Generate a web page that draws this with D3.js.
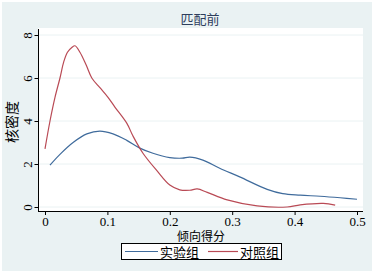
<!DOCTYPE html>
<html><head><meta charset="utf-8">
<script src="https://cdn.jsdelivr.net/npm/d3@7"></script>
<style>body{margin:0;background:#fff}</style>
</head><body>
<script>
const title = "匹配前";
const xLabel = "倾向得分";
const yLabel = "核密度";
const seriesNames = ["实验组", "对照组"];
const xTicks = [0, 0.1, 0.2, 0.3, 0.4, 0.5];
const yTicks = [0, 2, 4, 6, 8];
const treatX = [0.008,0.024,0.045,0.067,0.088,0.109,0.131,0.152,0.173,0.200,0.220,0.232,0.253,0.280,0.312,0.356,0.381,0.409,0.441,0.473,0.500];
const treatY = [1.95,2.45,3.0,3.4,3.53,3.4,3.1,2.74,2.5,2.3,2.27,2.32,2.18,1.8,1.4,0.82,0.62,0.55,0.5,0.43,0.36];
const ctrlX = [0.000,0.008,0.016,0.024,0.030,0.036,0.043,0.048,0.056,0.066,0.075,0.088,0.101,0.112,0.131,0.141,0.157,0.179,0.200,0.216,0.232,0.244,0.260,0.292,0.340,0.388,0.409,0.446,0.465];
const ctrlY = [2.7,4.0,5.1,6.0,6.75,7.2,7.42,7.5,7.2,6.6,6.0,5.55,5.1,4.65,3.9,3.3,2.5,1.7,1.02,0.8,0.78,0.84,0.68,0.33,0.05,0.0,0.1,0.17,0.09];
const colors = ["#3f6b9c", "#b94a55"];

const W = 374, H = 274;
const svg = d3.select("body").append("svg").attr("width", W).attr("height", H);
svg.append("rect").attr("x",2).attr("y",2).attr("width",370).attr("height",269).attr("fill","#eaf2f3");
svg.append("rect").attr("x",38).attr("y",28).attr("width",325).attr("height",183).attr("fill","#fff");

const x = d3.scaleLinear().domain([0,0.5]).range([45,357]);
const y = d3.scaleLinear().domain([0,8]).range([207,35]);

svg.append("g").selectAll("line").data(yTicks).join("line")
  .attr("x1",38).attr("x2",363).attr("y1",d=>y(d)).attr("y2",d=>y(d))
  .attr("stroke","#eaf2f3").attr("stroke-width",1);

const serif = "'Liberation Serif','DejaVu Serif',serif";
const cjk = "'Noto Sans CJK SC','Noto Sans CJK JP',sans-serif";

const xAxis = svg.append("g").attr("transform","translate(0,211)")
  .call(d3.axisBottom(x).tickValues(xTicks).tickFormat(d=>d===0?"0":d3.format(".1f")(d)).tickSize(4).tickPadding(2).tickSizeOuter(0));
xAxis.select(".domain").attr("d","M38,0.5H363");
xAxis.selectAll("text").attr("font-family",serif).attr("font-size",13).attr("fill","#000");
xAxis.selectAll("line,path").attr("stroke","#000");

const yAxis = svg.append("g").attr("transform","translate(38.5,0)")
  .call(d3.axisLeft(y).tickValues(yTicks).tickSize(4).tickSizeOuter(0));
yAxis.select(".domain").attr("d","M0,29V211");
yAxis.selectAll("line,path").attr("stroke","#000");
yAxis.selectAll("text").attr("font-family",serif).attr("font-size",13).attr("fill","#000")
  .attr("x",null).attr("dy",null).attr("text-anchor","middle")
  .attr("transform","translate(-7,0) rotate(-90)");

const line = d3.line().x(d=>x(d[0])).y(d=>y(d[1])).curve(d3.curveCatmullRom.alpha(0.5));
svg.append("path").datum(treatX.map((v,i)=>[v,treatY[i]])).attr("d",line)
  .attr("fill","none").attr("stroke",colors[0]).attr("stroke-width",1.2);
svg.append("path").datum(ctrlX.map((v,i)=>[v,ctrlY[i]])).attr("d",line)
  .attr("fill","none").attr("stroke",colors[1]).attr("stroke-width",1.2);

svg.append("text").attr("x",200).attr("y",24).attr("text-anchor","middle")
  .attr("font-family",cjk).attr("font-size",13).attr("fill","#2e3e5c").text(title);
svg.append("text").attr("x",201).attr("y",241).attr("text-anchor","middle")
  .attr("font-family",cjk).attr("font-size",12).attr("fill","#000").text(xLabel);
svg.append("text").attr("transform","translate(17,122) rotate(-90)").attr("text-anchor","middle")
  .attr("font-family",cjk).attr("font-size",14).attr("fill","#000").text(yLabel);

svg.append("rect").attr("x",121.5).attr("y",243.5).attr("width",160).attr("height",16)
  .attr("fill","#fff").attr("stroke","#000").attr("stroke-width",1);
const leg = [{x1:125,x2:158,tx:160},{x1:208,x2:238,tx:240}];
leg.forEach((l,i)=>{
  svg.append("line").attr("x1",l.x1).attr("x2",l.x2).attr("y1",251.5).attr("y2",251.5)
    .attr("stroke",colors[i]).attr("stroke-width",1.2);
  svg.append("text").attr("x",l.tx).attr("y",256.5).attr("font-family",cjk).attr("font-size",13)
    .attr("fill","#000").text(seriesNames[i]);
});
</script>
</body></html>
